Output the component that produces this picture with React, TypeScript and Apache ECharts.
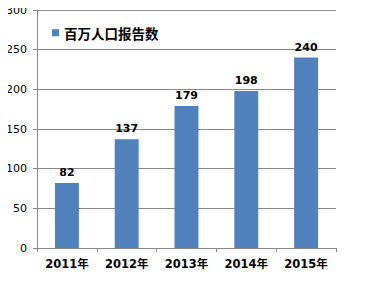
import React, { useEffect, useRef } from "react";
import * as echarts from "echarts";

const categories = ["2011年", "2012年", "2013年", "2014年", "2015年"];
const seriesName = "百万人口报告数";
const values = [82, 137, 179, 198, 240];
const yMin = 0;
const yMax = 300;
const yInterval = 50;

const FONT = "'DejaVu Sans', 'Noto Sans CJK SC', sans-serif";

export default function App() {
  const ref = useRef<HTMLDivElement>(null);
  useEffect(() => {
    if (!ref.current) return;
    const chart = echarts.init(ref.current, undefined, { renderer: "svg" });
    chart.setOption({
      animation: false,
      backgroundColor: "#ffffff",
      legend: {
        show: true,
        left: 47,
        top: 21,
        itemWidth: 7,
        itemHeight: 7,
        itemGap: 4,
        icon: "rect",
        textStyle: {
          fontFamily: "'Noto Sans CJK SC', sans-serif",
          fontWeight: "bold",
          fontSize: 13.5,
          color: "#000000",
        },
        data: [seriesName],
      },
      grid: { left: 37, right: 32, top: 10, bottom: 33, containLabel: false },
      xAxis: {
        type: "category",
        data: categories,
        axisLine: { show: true, lineStyle: { color: "#868686", width: 1 } },
        axisTick: { show: true, length: 4, alignWithLabel: false, lineStyle: { color: "#868686" } },
        axisLabel: {
          margin: 10,
          fontFamily: FONT,
          fontWeight: "bold",
          fontSize: 11.5,
          color: "#000000",
        },
      },
      yAxis: {
        type: "value",
        min: yMin,
        max: yMax,
        interval: yInterval,
        axisLine: { show: true, lineStyle: { color: "#868686", width: 1 } },
        axisTick: { show: true, length: 4, lineStyle: { color: "#868686" } },
        splitLine: { show: true, lineStyle: { color: "#868686", width: 1 } },
        axisLabel: {
          margin: 10,
          fontFamily: FONT,
          fontSize: 11,
          color: "#000000",
        },
      },
      series: [
        {
          name: seriesName,
          type: "bar",
          data: values,
          barWidth: "40%",
          itemStyle: { color: "#4F81BD" },
          label: {
            show: true,
            position: "top",
            distance: 5,
            fontFamily: FONT,
            fontWeight: "bold",
            fontSize: 11,
            color: "#000000",
          },
        },
      ],
    });
    return () => chart.dispose();
  }, []);
  return <div ref={ref} style={{ width: 368, height: 281, margin: -8 }} />;
}
